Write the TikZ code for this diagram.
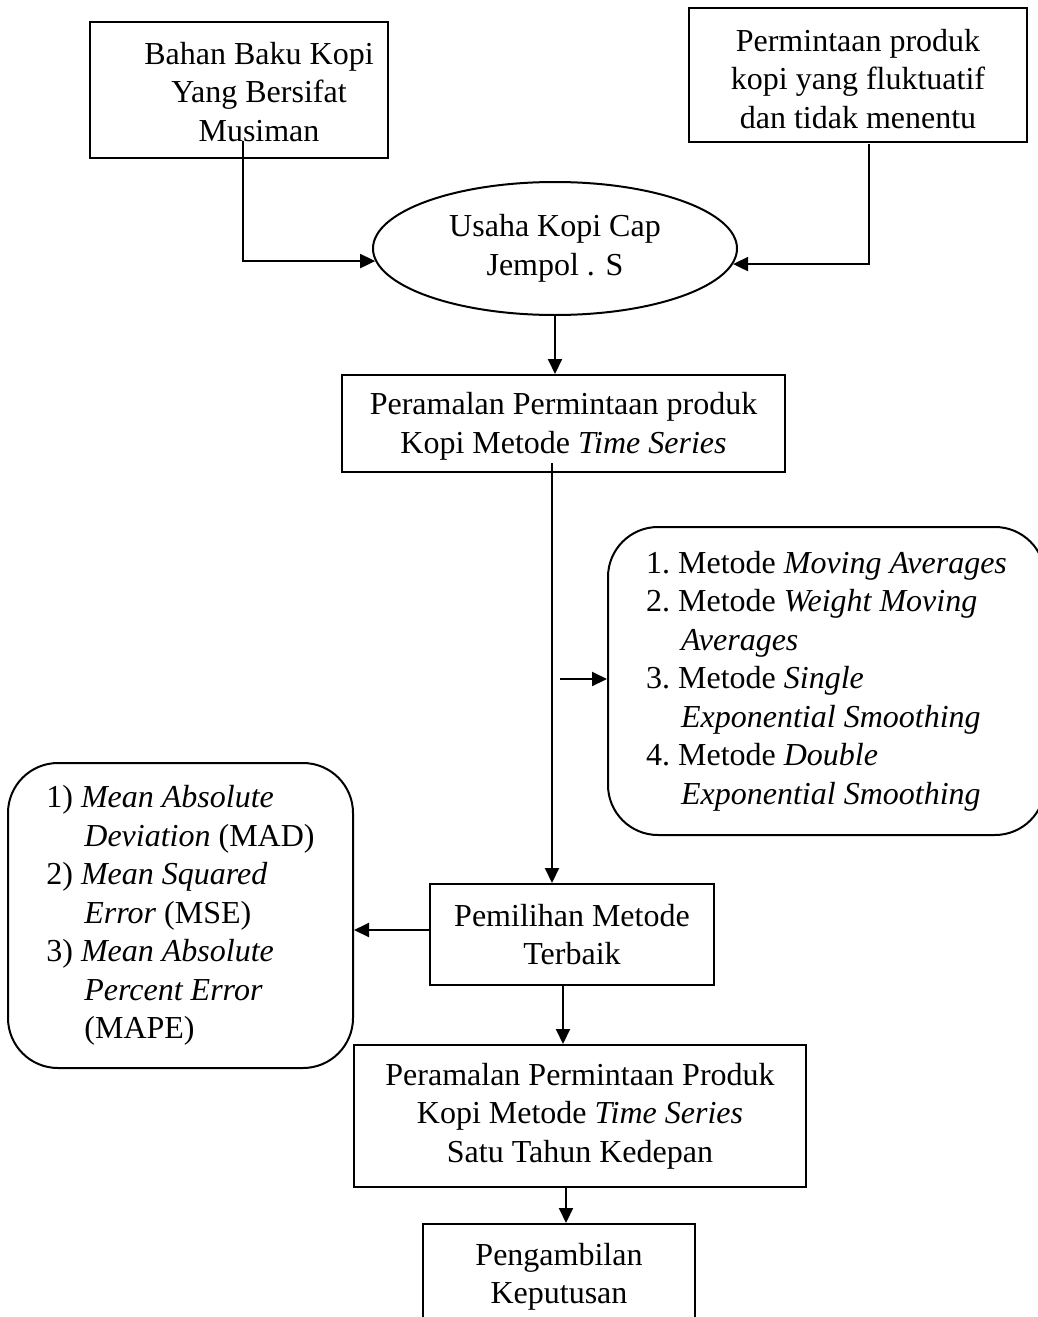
\documentclass[tikz,border=0pt]{standalone}
\usepackage{fontspec}
\setmainfont{Liberation Serif}
\usetikzlibrary{arrows.meta,shapes.geometric}

\begin{document}
\begin{tikzpicture}[
        %We set the scale (one unit is one pixel) and define some styles
        x=1pt, y=-1pt,
        every node/.style={color=black, font=\fontsize{32}{38.5}\selectfont, align=center, inner sep=0pt},
        box/.style={draw, line width=2pt},
        round box/.style={draw, line width=2pt, rounded corners=50pt, align=left},
        oval/.style={draw, ellipse, line width=2pt},
        flow/.style={line width=2pt, -{Triangle[length=15pt,width=14pt]}},
        plain line/.style={line width=2pt}
]
    \useasboundingbox (0,0) rectangle (1037,1317);

    % Inputs at the top
    \node[box, minimum width=298, minimum height=136] (bahan) at (239,90) {};
    \node (bahan text) at (259,92) {Bahan Baku Kopi\\Yang Bersifat\\Musiman};
    \node[box, minimum width=338, minimum height=134] (permintaan) at (858,75) {};
    \node (permintaan text) at (858,79) {Permintaan produk\\kopi yang fluktuatif\\dan tidak menentu};

    % The business
    \node[oval, minimum width=364, minimum height=133] (usaha) at (555,248.5)
        {Usaha Kopi Cap\\Jempol . S};

    % Forecasting steps
    \node[box, minimum width=443, minimum height=97] (peramalan) at (563.5,423.5) {};
    \node (peramalan text) at (563.5,426.5) {Peramalan Permintaan produk\\Kopi Metode \textit{Time Series}};
    \node[round box, minimum width=437, minimum height=308] (metode) at (826.5,681)
        {1.\ Metode \textit{Moving Averages}\\
         2.\ Metode \textit{Weight Moving}\\
         \hspace*{35pt}\textit{Averages}\\
         3.\ Metode \textit{Single}\\
         \hspace*{35pt}\textit{Exponential Smoothing}\\
         4.\ Metode \textit{Double}\\
         \hspace*{35pt}\textit{Exponential Smoothing}};
    \node[box, minimum width=284, minimum height=101] (pemilihan) at (572,934.5)
        {Pemilihan Metode\\Terbaik};
    \node[round box, minimum width=345, minimum height=305] (error) at (180.5,915.5)
        {1) \textit{Mean Absolute}\\
         \hspace*{38pt}\textit{Deviation} (MAD)\\
         2) \textit{Mean Squared}\\
         \hspace*{38pt}\textit{Error} (MSE)\\
         3) \textit{Mean Absolute}\\
         \hspace*{38pt}\textit{Percent Error}\\
         \hspace*{38pt}(MAPE)};
    \node[box, minimum width=452, minimum height=142] (hasil) at (580,1116)
        {Peramalan Permintaan Produk\\Kopi Metode \textit{Time Series}\\Satu Tahun Kedepan};
    \node[box, minimum width=272, minimum height=106] (keputusan) at (559,1277)
        {Pengambilan\\Keputusan};

    % Free ends of the connectors
    \coordinate (bahan tail) at (243,141);
    \coordinate (permintaan tail) at (869,144);
    \coordinate (spine top) at (552,463);
    \coordinate (spine tap) at (560,679);
    \coordinate (error tap) at (430,930);

    % Connectors
    \draw[flow] (bahan tail) |- (usaha.184.4);
    \draw[flow] (permintaan tail) |- (usaha.-5.4);
    \draw[flow] (usaha.south) -- (usaha.south |- peramalan.north);
    \draw[flow] (spine top) -- (spine top |- pemilihan.north);
    \draw[flow] (spine tap) -- (spine tap -| metode.west);
    \draw[flow] (error tap) -- (error tap -| error.east);
    \draw[flow] (pemilihan.south -| 0,0) ++(563,0) coordinate (pemilihan tail) -- (pemilihan tail |- hasil.north);
    \draw[flow] (hasil.south -| 0,0) ++(566,0) coordinate (hasil tail) -- (hasil tail |- keputusan.north);
\end{tikzpicture}
\end{document}
